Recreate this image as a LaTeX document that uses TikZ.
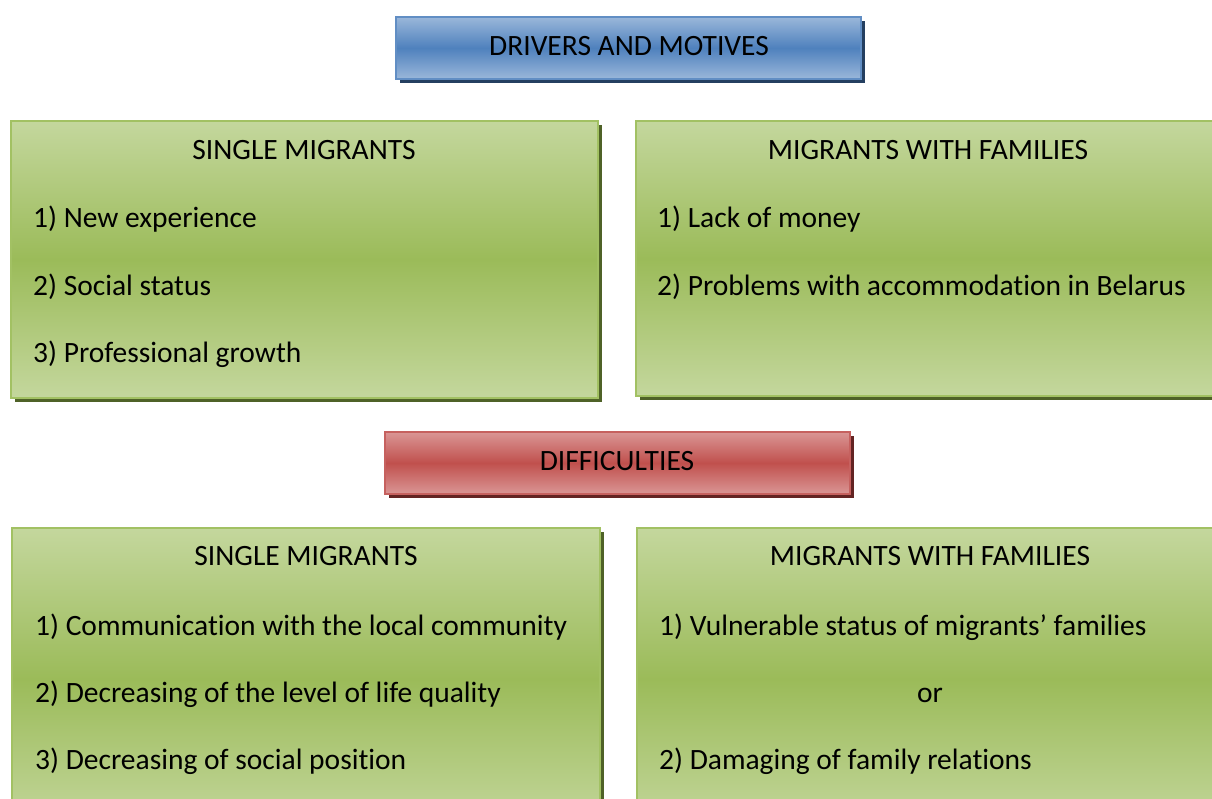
\documentclass[tikz,border=0pt]{standalone}
\usepackage{fontspec}
\setmainfont{Carlito}[Ligatures=NoCommon]
\usepackage{xcolor}
\usetikzlibrary{shadows}

\definecolor{greenlight}{HTML}{C4D79D}
\definecolor{greenmid}{HTML}{9BBB59}
\definecolor{greenline}{HTML}{A2C163}
\definecolor{greenshadow}{HTML}{4F6228}
\definecolor{bluelight}{HTML}{9AB7DA}
\definecolor{bluemid}{HTML}{4F81BD}
\definecolor{blueshadow}{HTML}{243F60}
\definecolor{redlight}{HTML}{DA9695}
\definecolor{redmid}{HTML}{C0504D}
\definecolor{redshadow}{HTML}{632423}

\begin{document}
\begin{tikzpicture}[x=1pt,y=1pt,
    box/.style={rectangle, inner sep=0pt, line width=1.6pt},
    greenbox/.style={box, draw=greenline, top color=greenlight, bottom color=greenlight, middle color=greenmid,
        general shadow={fill=greenshadow, shadow xshift=4pt, shadow yshift=-4pt}},
    bluebox/.style={box, draw=bluemid!90, top color=bluelight, bottom color=bluelight, middle color=bluemid,
        general shadow={fill=blueshadow, shadow xshift=4pt, shadow yshift=-4pt}},
    redbox/.style={box, draw=redmid!90, top color=redlight, bottom color=redlight, middle color=redmid,
        general shadow={fill=redshadow, shadow xshift=4pt, shadow yshift=-4pt}},
    txt/.style={font=\fontsize{29.5}{35}\selectfont, inner sep=0pt, anchor=base west},
    head/.style={txt, anchor=base}]
    \clip (0,0) rectangle (1212,799);
    \fill[white] (0,0) rectangle (1212,799);

    % headers
    \node[bluebox, minimum width=465pt, minimum height=62pt] (drivers) at (628.5,751) {};
    \node[redbox, minimum width=465pt, minimum height=62pt] (diff) at (617.5,336) {};
    \node[head] (driverst) at (629,743) {DRIVERS AND MOTIVES};
    \node[head] (difft) at (617,328) {DIFFICULTIES};

    % drivers and motives
    \node[greenbox, minimum width=587pt, minimum height=277pt] (dsingle) at (304.5,539.5) {};
    \node[greenbox, minimum width=604pt, minimum height=275pt] (dfamily) at (938,540.5) {};
    \node[head] (dsingleh) at (304,639) {SINGLE MIGRANTS};
    \node[txt] (ds1) at (33,571) {1) New experience};
    \node[txt] (ds2) at ([yshift=-68]ds1.base west) {2) Social status};
    \node[txt] (ds3) at ([yshift=-67]ds2.base west) {3) Professional growth};
    \node[head] (dfamilyh) at (928,639) {MIGRANTS WITH FAMILIES};
    \node[txt] (df1) at (657,571) {1) Lack of money};
    \node[txt] (df2) at ([yshift=-68]df1.base west) {2) Problems with accommodation in Belarus};

    % difficulties
    \node[greenbox, minimum width=588pt, minimum height=302pt] (fsingle) at (306,120) {};
    \node[greenbox, minimum width=603pt, minimum height=302pt] (ffamily) at (938.5,120) {};
    \node[head] (fsingleh) at (306,233) {SINGLE MIGRANTS};
    \node[txt] (fs1) at (35,163) {1) Communication with the local community};
    \node[txt] (fs2) at ([yshift=-67]fs1.base west) {2) Decreasing of the level of life quality};
    \node[txt] (fs3) at ([yshift=-67]fs2.base west) {3) Decreasing of social position};
    \node[head] (ffamilyh) at (930,233) {MIGRANTS WITH FAMILIES};
    \node[txt] (ff1) at (659,163) {1) Vulnerable status of migrants’ families};
    \node[head] (ffor) at (930,96) {or};
    \node[txt] (ff2) at ([yshift=-134]ff1.base west) {2) Damaging of family relations};
\end{tikzpicture}
\end{document}
